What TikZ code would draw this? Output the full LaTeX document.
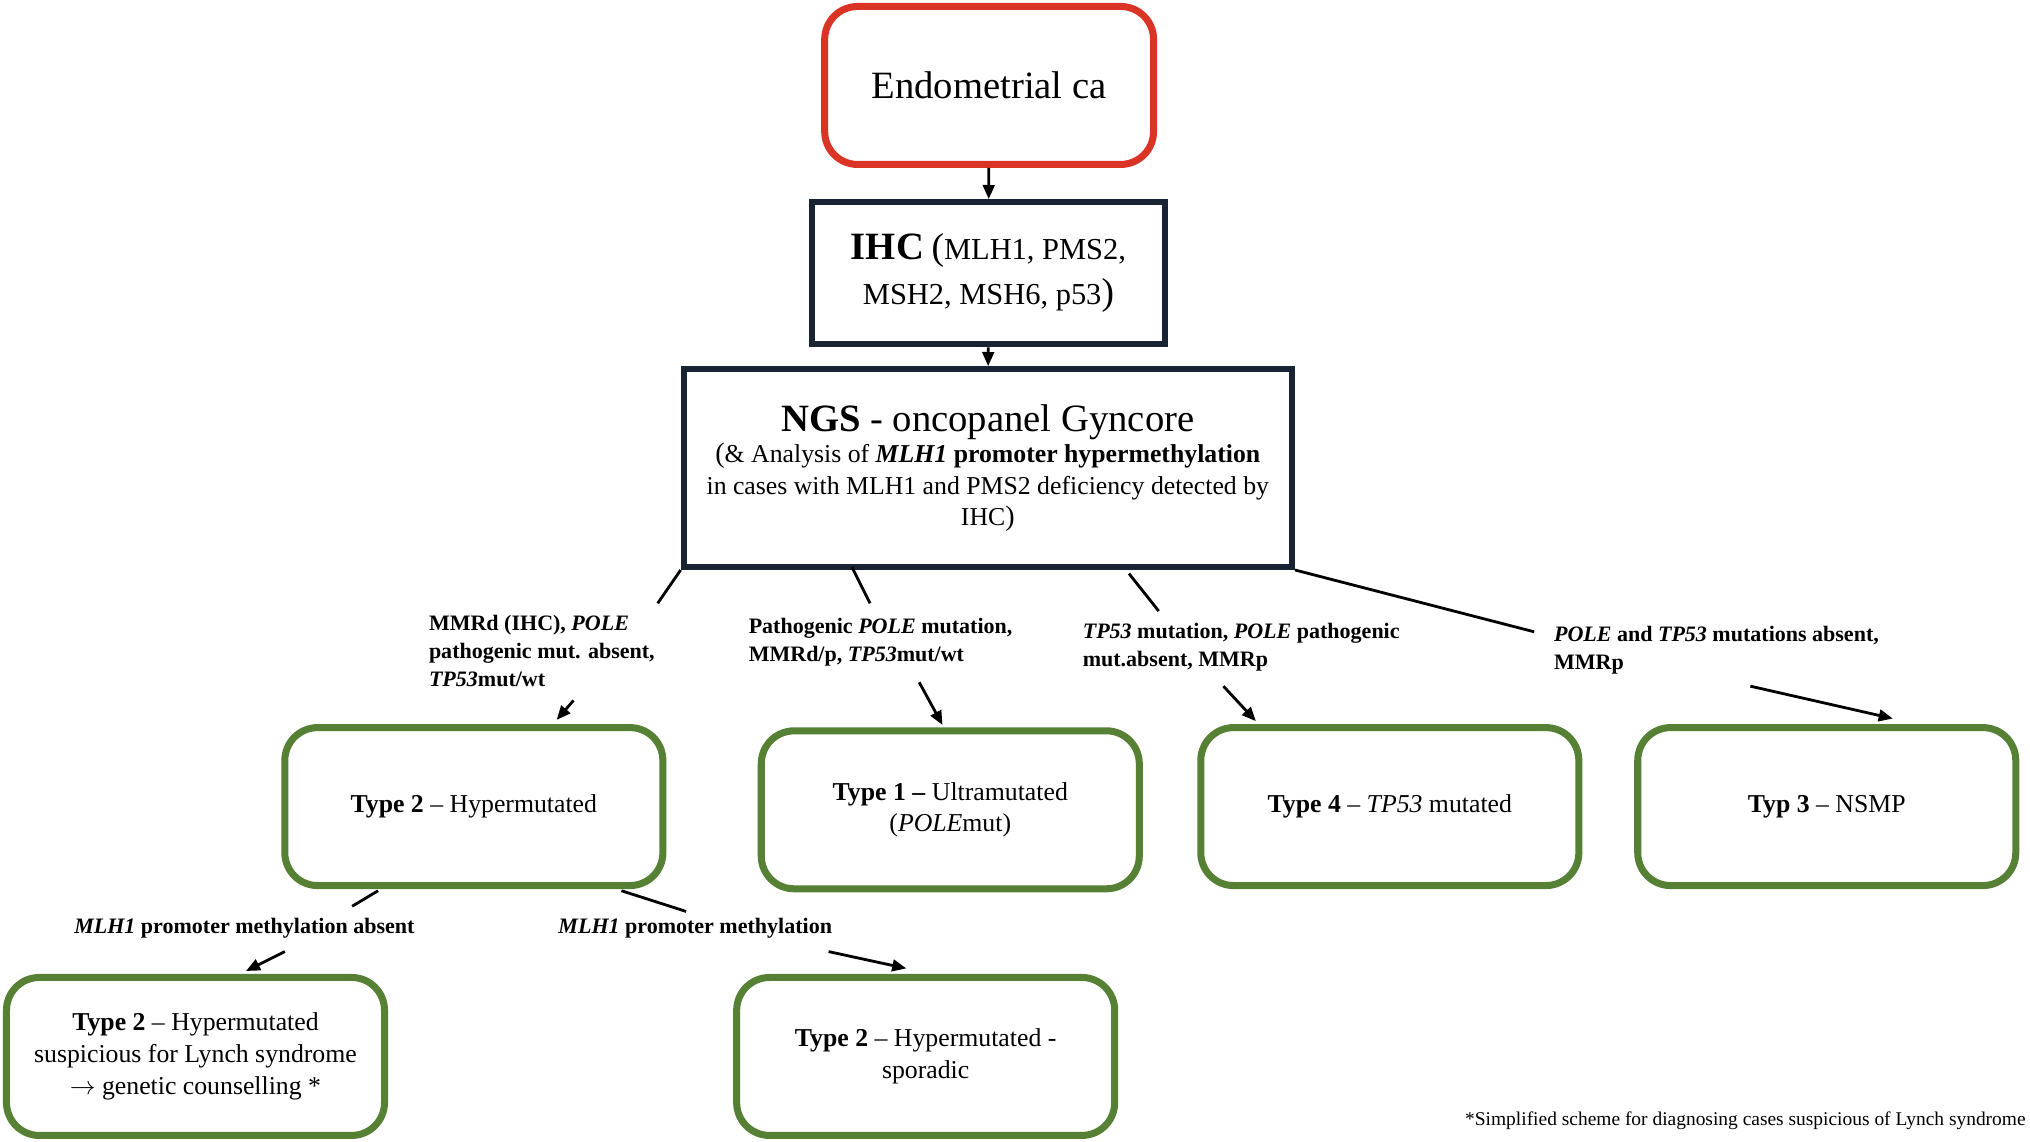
\documentclass[tikz,border=0pt]{standalone}
\usepackage{fontspec}
\setmainfont{Liberation Serif}
\usetikzlibrary{arrows.meta}

\def\px{0.01942cm} % one pixel of the layout grid

\definecolor{boxred}{RGB}{218,52,38}
\definecolor{boxnavy}{RGB}{24,36,52}
\definecolor{boxgreen}{RGB}{86,128,52}

\tikzset{
  redbox/.style   = {draw=boxred, line width=3pt, rounded corners=14pt, align=center},
  navybox/.style  = {draw=boxnavy, line width=2.5pt, align=center},
  greenbox/.style = {draw=boxgreen, line width=3pt, rounded corners=14pt, align=center,
                     font=\fontsize{11}{13.5}\selectfont,
                     minimum width=292*\px, minimum height=122*\px},
  cut/.style      = {line width=1.2pt},
  tip/.style      = {line width=1.2pt, -{Triangle[length=6pt,width=5pt]}},
  lbl/.style      = {anchor=west, align=left, inner sep=0pt,
                     font=\fontsize{9.4}{12}\selectfont\bfseries}
}

\begin{document}
\begin{tikzpicture}[x=\px, y=-\px]
\useasboundingbox (0,0) rectangle (1568,882);

% boxes
\node[redbox, minimum width=254*\px, minimum height=122*\px,
      font=\fontsize{16.5}{20}\selectfont] (endo) at (764,66) {Endometrial ca};
\node[navybox, minimum width=273*\px, minimum height=110*\px,
      font=\fontsize{13}{19}\selectfont] (ihc) at (763.5,211)
      {{\fontsize{16.5}{19}\selectfont\bfseries IHC} {\fontsize{16}{19}\selectfont(}MLH1, PMS2,\\
       MSH2, MSH6, p53{\fontsize{16}{19}\selectfont)}};
\node[navybox, minimum width=470*\px, minimum height=153*\px,
      font=\fontsize{11}{13.5}\selectfont] (ngs) at (763,361.5)
      {{\fontsize{16.5}{20}\selectfont\textbf{NGS} - oncopanel Gyncore}\\
       {\fontsize{12}{14}\selectfont(}\& Analysis of \textbf{\textit{MLH1} promoter hypermethylation}\\
       in cases with MLH1 and PMS2 deficiency detected by\\
       IHC{\fontsize{12}{14}\selectfont)}};

\node[greenbox] (t2)  at (366,623) {\textbf{Type 2} -- Hypermutated};
\node[greenbox] (t1)  at (734,625.5) {\textbf{Type 1 --} Ultramutated\\(\textit{POLE}mut)};
\node[greenbox] (t4)  at (1073.5,623) {\textbf{Type 4} -- \textit{TP53} mutated};
\node[greenbox] (t3)  at (1411,623) {\textbf{Typ 3} -- NSMP};
\node[greenbox] (t2l) at (151,816) {\textbf{Type 2} -- Hypermutated\\suspicious for Lynch syndrome\\$\rightarrow$ genetic counselling *};
\node[greenbox] (t2s) at (715,816) {\textbf{Type 2} -- Hypermutated -\\sporadic};

% labels
\node[lbl] (l1) at (331,503) {MMRd (IHC), \textit{POLE}\\pathogenic mut. absent,\\\textit{TP53}mut/wt};
\node[lbl] (l2) at (578,496) {Pathogenic \textit{POLE} mutation,\\MMRd/p, \textit{TP53}mut/wt};
\node[lbl] (l3) at (836,500) {\textit{TP53} mutation, \textit{POLE} pathogenic\\mut.absent, MMRp};
\node[lbl] (l4) at (1200,502) {\textit{POLE} and \textit{TP53} mutations absent,\\MMRp};
\node[lbl] (l5) at (57,717) {\textit{MLH1} promoter methylation absent};
\node[lbl] (l6) at (431,717) {\textit{MLH1} promoter methylation};
\node[anchor=east, inner sep=0pt, font=\fontsize{8.3}{10}\selectfont] (note) at (1565,866)
      {*Simplified scheme for diagnosing cases suspicious of Lynch syndrome};

% gap ends of the broken connectors
\coordinate (a1) at (508,466);  \coordinate (b1) at (443,541);
\coordinate (a2) at (672,466);  \coordinate (b2) at (710,527);
\coordinate (a3) at (895,472);  \coordinate (b3) at (945,530);
\coordinate (a4) at (1185,488); \coordinate (b4) at (1352,530);
\coordinate (a5) at (272,700);  \coordinate (b5) at (220,735);
\coordinate (a6) at (530,704);  \coordinate (b6) at (640,735);

% connectors
\draw[tip] (endo) -- (ihc);
\draw[tip] (ihc) -- (ngs);

\draw[cut] (ngs.south west) -- (a1);
\draw[tip] (b1) -- (430,556);
\draw[cut] (658,438) -- (a2);
\draw[tip] (b2) -- (728,560);
\draw[cut] (872,443) -- (a3);
\draw[tip] (b3) -- (970,557);
\draw[cut] (ngs.south east) -- (a4);
\draw[tip] (b4) -- (1462,555);

\draw[cut] (292,688) -- (a5);
\draw[tip] (b5) -- (190,750);
\draw[cut] (480,688) -- (a6);
\draw[tip] (b6) -- (700,748);

\end{tikzpicture}
\end{document}
